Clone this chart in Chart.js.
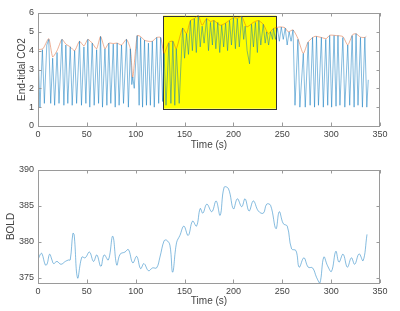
<!DOCTYPE html>
<html>
<head>
<meta charset="utf-8">
<script src="https://cdn.jsdelivr.net/npm/chart.js@4"></script>
<style>
  body { margin: 0; background: #fff; }
  #wrap { position: relative; width: 400px; height: 311px; }
  .box { position: absolute; left: 0; width: 400px; }
</style>
</head>
<body>
<div id="wrap">
  <div class="box" style="top:0;height:155px"><canvas id="co2-chart" width="400" height="155"></canvas></div>
  <div class="box" style="top:155px;height:156px"><canvas id="bold-chart" width="400" height="156"></canvas></div>
</div>
<script>
// End-tidal CO2 trace (s, value)
const co2Time = [0, 2, 4.5, 6.5, 9, 11, 13, 15, 17, 19.5, 21.5, 24.5, 26.5, 28.5, 30.5, 33, 35, 37.5, 39.5, 42.5,
  44.5, 47, 49, 51, 53, 55.5, 57.5, 60, 62, 64, 66, 68.5, 70.5, 72.5, 74.5, 77, 79, 81, 83, 85.5,
  87.5, 90.5, 92.5, 94.5, 96, 97, 98.5, 101.5, 103.5, 105, 107, 109, 111, 113, 115, 117, 119, 121.5, 123.5, 125.5,
  127.5, 129, 131, 134, 136, 138, 140, 141.5, 144.5, 148, 150, 152, 154, 156, 158, 160, 162, 164, 166, 168,
  170, 172.5, 174.5, 176.5, 178.5, 180, 182, 184, 186, 188, 190, 192, 194, 196, 198, 200, 202, 204, 206, 208.5,
  210.5, 212, 214, 216.5, 218.5, 220.5, 222.5, 224.5, 226, 228, 230.5, 232.5, 234, 236, 238, 240, 241, 243, 245, 247,
  249, 251, 253, 255, 257, 259, 261, 263, 266, 268, 271.5, 273.5, 276.5, 278.5, 281, 283, 285, 287, 290, 292,
  294.5, 296.5, 298.5, 300.5, 303, 305, 307, 309, 312, 314, 317, 319, 321.5, 323.5, 325.5, 327.5, 330, 332, 334.5, 336.5,
  338];
const co2Values = [4.0, 1.0, 4.05, 1.2, 4.3, 4.6, 1.2, 3.6, 1.1, 3.9, 1.2, 4.6, 1.1, 4.3, 1.2, 4.2, 1.1, 4.0, 1.2, 4.5,
  1.1, 4.2, 1.2, 4.6, 1.0, 4.4, 1.1, 4.05, 1.2, 4.75, 1.0, 4.1, 1.1, 4.4, 1.2, 4.35, 1.0, 4.4, 1.1, 4.3,
  1.2, 4.6, 1.0, 4.1, 2.2, 2.6, 2.0, 4.8, 1.1, 4.7, 1.0, 4.55, 1.1, 4.4, 1.1, 4.5, 1.0, 4.7, 1.2, 4.7,
  1.3, 3.85, 1.1, 4.4, 1.2, 4.5, 1.1, 4.1, 1.2, 5.2, 3.6, 4.9, 3.8, 5.6, 4.0, 5.7, 3.9, 5.85, 4.2, 5.3,
  4.4, 5.7, 4.0, 5.5, 4.3, 5.6, 4.1, 5.5, 3.9, 5.35, 4.2, 5.45, 4.0, 5.6, 4.3, 5.75, 4.1, 5.7, 4.2, 5.82,
  4.6, 5.3, 4.0, 3.3, 5.4, 4.2, 5.5, 3.9, 5.6, 4.3, 5.4, 4.4, 5.0, 4.3, 5.0, 4.6, 5.17, 4.6, 5.2, 4.5,
  5.25, 4.6, 5.2, 4.3, 5.0, 4.5, 5.1, 1.1, 4.6, 1.0, 3.85, 1.0, 4.45, 1.1, 4.7, 1.0, 4.75, 1.1, 4.7, 1.0,
  4.6, 1.1, 4.8, 1.0, 4.8, 1.05, 4.8, 1.1, 4.7, 1.0, 4.3, 1.1, 4.8, 1.0, 4.9, 1.1, 4.7, 1.0, 4.7, 1.0,
  2.45];

// upper envelope of the CO2 trace
const envTime = [0, 5, 11, 15, 19.5, 24.5, 28.5, 33, 37.5, 42.5, 47, 51, 55.5, 60, 64, 68.5, 72.5, 77, 81, 85.5,
  90.5, 94.5, 97, 101.5, 105, 109, 113, 117, 121.5, 125.5, 129, 134, 138, 141.5, 148, 152, 156, 160, 164, 168,
  172.5, 176.5, 180, 186.4, 191.5, 200, 204, 208.5, 213.6, 220.4, 225.5, 230.6, 235.7, 240.8, 247.6, 252.7, 256, 261, 266, 271.5,
  276.5, 283.3, 290, 295, 298.6, 305.4, 312, 317, 322, 325.5, 330, 334.5, 336];
const envValues = [4.06, 4.1, 4.64, 3.67, 4.0, 4.6, 4.35, 4.2, 4.0, 4.5, 4.25, 4.6, 4.4, 4.1, 4.76, 4.1, 4.4, 4.38, 4.4, 4.3,
  4.6, 4.1, 2.58, 4.8, 4.75, 4.55, 4.5, 4.5, 4.7, 4.7, 3.85, 4.45, 4.5, 4.1, 5.2, 4.9, 5.6, 5.7, 5.88, 5.35,
  5.7, 5.55, 5.6, 5.35, 5.45, 5.75, 5.72, 5.82, 5.26, 5.5, 5.6, 5.4, 4.9, 5.17, 5.26, 5.22, 5.0, 5.1, 4.64, 3.85,
  4.47, 4.76, 4.7, 4.64, 4.82, 4.8, 4.75, 4.3, 4.85, 4.9, 4.72, 4.7, 4.76];

// BOLD signal
const boldTime = [0, 2.4, 4, 7.5, 9.2, 11.9, 14.3, 16, 19.4, 23.5, 28, 31.3, 33, 35.7, 37, 40.5, 44.9, 48.3, 52.7, 56.8,
  60.2, 64.3, 67.7, 72, 76.5, 80.6, 84, 89, 92.5, 97, 101, 105, 108.5, 113, 117.3, 121.4, 124.8, 129, 131.6, 135,
  137.8, 141.8, 145.2, 149.3, 153.7, 158.2, 162.2, 166, 168.7, 172.8, 177.9, 182.3, 186.4, 190.5, 194.9, 200, 204, 208.5, 211.9, 216,
  220.4, 225.5, 230.6, 234, 238, 243.5, 246.9, 251, 255.1, 259.5, 264, 267.3, 272.1, 276.5, 281, 285, 288.4, 292.5, 296.3, 300.3,
  304.8, 308, 312.2, 316.6, 320.7, 324.1, 328.6, 332.7, 336.7];
const boldValues = [377.5, 378.3, 378.4, 376.8, 376.9, 378.3, 377.5, 377.0, 377.3, 376.9, 377.3, 377.5, 377.5, 381.2, 381.0, 375.0, 377.9, 377.8, 378.6, 377.3,
  378.2, 376.6, 378.2, 377.5, 380.8, 376.8, 378.3, 378.6, 378.95, 377.1, 378.0, 376.3, 377.0, 376.0, 376.4, 376.4, 377.9, 380.15, 380.25, 379.55,
  375.8, 379.9, 380.9, 382.2, 380.9, 382.9, 382.2, 384.65, 384.0, 385.25, 384.2, 385.7, 383.7, 387.6, 387.4, 384.6, 386.0, 384.9, 386.0, 384.3,
  385.7, 384.3, 384.0, 385.25, 385.1, 381.85, 384.2, 382.55, 382.2, 379.05, 378.8, 376.5, 377.8, 376.5, 376.4, 375.1, 374.25, 377.9, 376.7, 375.9,
  378.7, 377.2, 378.3, 376.5, 377.8, 376.9, 378.35, 377.4, 381.05];

const timeTicks = [0, 50, 100, 150, 200, 250, 300, 350];
const co2Ticks = [0, 1, 2, 3, 4, 5, 6];
const boldTicks = [375, 380, 385, 390];

// highlighted window (data units)
const boxX = [128, 244];
const boxY = [0.92, 5.86];

const textColor = "#444444";
const frameColor = "#9a9a9a";
const blueLine = "rgba(0, 114, 189, 0.48)";
const orangeLine = "rgba(217, 83, 25, 0.45)";
const tickFont = { family: "Liberation Sans", size: 9 };
const titleFont = { family: "Liberation Sans", size: 10 };

function pts(xs, ys) {
  return xs.map((x, i) => ({ x: x, y: ys[i] }));
}

// axes box with inward tick marks, matlab style
const framePlugin = {
  id: "frame",
  afterDraw(chart) {
    const ctx = chart.ctx;
    const a = chart.chartArea;
    const xs = chart.scales.x, ys = chart.scales.y;
    ctx.save();
    ctx.strokeStyle = frameColor;
    ctx.lineWidth = 1;
    ctx.strokeRect(Math.round(a.left) + 0.5, Math.round(a.top) + 0.5,
      Math.round(a.right - a.left) - 1, Math.round(a.bottom - a.top));
    ctx.beginPath();
    xs.ticks.forEach(t => {
      const px = Math.round(xs.getPixelForValue(t.value)) + 0.5;
      ctx.moveTo(px, a.bottom); ctx.lineTo(px, a.bottom - 3.5);
      ctx.moveTo(px, a.top); ctx.lineTo(px, a.top + 3.5);
    });
    ys.ticks.forEach(t => {
      const py = Math.round(ys.getPixelForValue(t.value)) + 0.5;
      ctx.moveTo(a.left, py); ctx.lineTo(a.left + 3.5, py);
      ctx.moveTo(a.right, py); ctx.lineTo(a.right - 3.5, py);
    });
    ctx.stroke();
    ctx.restore();
  }
};

const boxPlugin = {
  id: "window",
  beforeDatasetsDraw(chart) {
    const xs = chart.scales.x, ys = chart.scales.y;
    const x0 = xs.getPixelForValue(boxX[0]), x1 = xs.getPixelForValue(boxX[1]);
    const y0 = ys.getPixelForValue(boxY[1]), y1 = ys.getPixelForValue(boxY[0]);
    const ctx = chart.ctx;
    ctx.save();
    ctx.fillStyle = "#ffff00";
    ctx.fillRect(x0, y0, x1 - x0, y1 - y0);
    ctx.strokeStyle = "#333333";
    ctx.lineWidth = 1;
    ctx.strokeRect(Math.round(x0) + 0.5, Math.round(y0) + 0.5, Math.round(x1 - x0), Math.round(y1 - y0));
    ctx.restore();
  }
};

function xAxis(height) {
  return {
    type: "linear", min: 0, max: 350,
    grid: { display: false, drawTicks: false },
    border: { display: false },
    afterBuildTicks: s => { s.ticks = timeTicks.map(v => ({ value: v })); },
    afterFit: s => { s.height = height; },
    ticks: { color: textColor, font: tickFont, padding: 3, maxRotation: 0 },
    title: { display: true, text: "Time (s)", color: textColor, font: titleFont, padding: { top: 0, bottom: 4 } }
  };
}

function yAxis(min, max, tickList, label, titlePad) {
  return {
    type: "linear", min: min, max: max,
    grid: { display: false, drawTicks: false },
    border: { display: false },
    afterBuildTicks: s => { s.ticks = tickList.map(v => ({ value: v })); },
    afterFit: s => { s.width = 38; },
    ticks: { color: textColor, font: tickFont, padding: 4 },
    title: { display: true, text: label, color: textColor, font: titleFont, padding: { top: titlePad, bottom: 0 } }
  };
}

new Chart(document.getElementById("co2-chart").getContext("2d"), {
  type: "line",
  data: {
    datasets: [
      {
        data: pts(co2Time, co2Values),
        borderColor: blueLine,
        borderWidth: 1,
        pointRadius: 0,
        tension: 0
      },
      {
        data: pts(envTime, envValues),
        borderColor: orangeLine,
        borderWidth: 1,
        pointRadius: 0,
        tension: 0.2
      }
    ]
  },
  options: {
    responsive: false,
    animation: false,
    layout: { padding: { left: 0, right: 20, top: 13, bottom: 0 } },
    plugins: { legend: { display: false }, tooltip: { enabled: false } },
    scales: {
      x: xAxis(29),
      y: yAxis(0, 6, co2Ticks, "End-tidal CO2", 16)
    }
  },
  plugins: [boxPlugin, framePlugin]
});

new Chart(document.getElementById("bold-chart").getContext("2d"), {
  type: "line",
  data: {
    datasets: [{
      data: pts(boldTime, boldValues),
      borderColor: blueLine,
      borderWidth: 1,
      pointRadius: 0,
      tension: 0.4
    }]
  },
  options: {
    responsive: false,
    animation: false,
    layout: { padding: { left: 0, right: 20, top: 15, bottom: 0 } },
    plugins: { legend: { display: false }, tooltip: { enabled: false } },
    scales: {
      x: xAxis(28),
      y: yAxis(374.3, 390, boldTicks, "BOLD", 5)
    }
  },
  plugins: [framePlugin]
});
</script>
</body>
</html>
